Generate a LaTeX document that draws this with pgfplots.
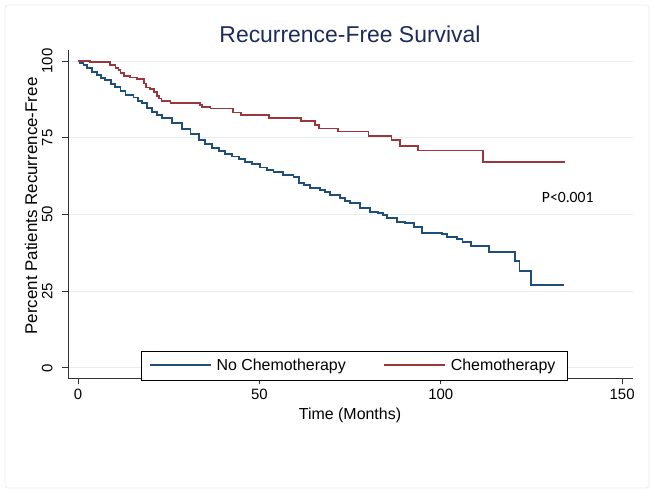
\documentclass[border=0pt]{standalone}
\usepackage{fontspec}
\setmainfont{Liberation Sans}
\newfontfamily\calibri{Carlito}
\usepackage{pgfplots}
\pgfplotsset{compat=1.18}
\definecolor{kmblue}{HTML}{1F4E7A}
\definecolor{kmred}{HTML}{9A363C}
\definecolor{titlecol}{HTML}{1E2A5A}
\definecolor{gridcol}{HTML}{E6EEF2}
\definecolor{axcol}{HTML}{333333}

\begin{document}
\begin{tikzpicture}[x=1bp,y=1bp]
\useasboundingbox (0,0) rectangle (654,493);
\draw[gridcol, line width=0.8bp, rounded corners=3bp] (5,5) rectangle (649,488);
\begin{axis}[
  at={(68bp,114.7bp)}, anchor=south west,
  scale only axis, width=565bp, height=328.3bp,
  xmin=-2.76, xmax=153, ymin=-3.4, ymax=103.6,
  axis lines*=left, axis line style={-, axcol, line width=0.9bp},
  xtick={0,50,100,150}, ytick={0,25,50,75,100},
  tick align=outside, major tick length=6bp,
  tick style={axcol, line width=0.9bp},
  ymajorgrids, grid style={gridcol, line width=0.9bp},
  ticklabel style={font=\fontsize{15}{18}\selectfont},
  /pgf/number format/assume math mode=true,
  yticklabel style={rotate=90, anchor=south},
  yticklabel shift=6bp,
  xticklabel shift=1bp,
  legend style={
    at={(0.507,0.039)}, anchor=center,
    draw=black, line width=0.7bp, fill=white,
    legend columns=2,
    font=\fontsize{16}{19}\selectfont,
    inner xsep=7bp, inner ysep=6bp,
    /tikz/every even column/.append style={column sep=32bp},
    nodes={inner xsep=5bp},
  },
  legend cell align=left,
  legend image code/.code={\draw[#1] (0bp,0bp) -- (61bp,0bp);},
]
\addlegendimage{kmblue, line width=2bp}
\addlegendentry{No Chemotherapy}
\addlegendimage{kmred, line width=2bp}
\addlegendentry{Chemotherapy}
\addplot[const plot, kmblue, line width=1.9bp, forget plot] coordinates {
(0,100) (0.6,99.5) (1.5,98.6) (2.5,97.6) (3.8,96.5) (5.2,95.4) (6.3,94.6)
(7.5,93.8) (9.0,92.6) (10.3,91.6) (11.7,90.2) (13.1,88.9) (15.3,88.1)
(16.5,87.1) (17.6,86.2) (19.0,84.8) (20.4,83.5) (21.8,82.4) (23.2,81.3)
(25.9,79.7) (28.7,77.8) (31.0,76.2) (33.3,74.3) (35.0,73.0) (36.9,71.6)
(38.8,70.6) (40.6,69.7) (42.5,68.9) (44.3,68.1) (46.0,67.2) (48.0,66.3)
(50.2,65.3) (52.0,64.5) (53.9,63.9) (56.5,63.0) (59.4,62.1) (60.8,60.2)
(62.4,59.5) (64.0,58.7) (66.7,58.0) (68.0,57.2) (69.5,56.4) (72.2,55.3)
(73.6,54.5) (75.0,53.6) (77.7,52.2) (80.5,50.9) (82.8,50.6) (84.0,49.7)
(85.1,48.8) (87.9,47.5) (90.2,47.2) (92.5,46.0) (94.8,44.1) (100.3,43.6)
(101.7,42.6) (104.6,42.0) (106.0,41.1) (108.3,39.8) (113.4,37.8)
(120.5,34.9) (121.7,31.5) (124.8,26.9) (134.0,26.9)
};
\addplot[const plot, kmred, line width=1.7bp, forget plot] coordinates {
(0,100) (3.4,99.6) (8.9,98.7) (10.3,97.8) (11.2,97.1) (11.7,96.0) (12.6,95.2)
(14.4,94.6) (16.3,94.1) (18.1,92.7) (18.8,91.4) (19.9,90.8) (20.9,89.8)
(21.8,88.7) (22.4,87.8) (23.0,87.0) (25.5,86.4) (33.7,85.7) (34.2,85.1)
(36.5,84.5) (42.8,83.2) (45.0,82.3) (52.6,81.4) (61.5,80.5) (65.4,79.2)
(66.4,78.0) (71.7,77.0) (80.1,75.5) (86.4,74.2) (88.8,72.4) (93.7,70.8)
(111.6,67.0) (134.3,67.0)
};
\node[font=\calibri\fontsize{15.7}{18}\selectfont, text=black] at (axis cs:135,55.5) {P<0.001};
\end{axis}
\node[font=\fontsize{23}{27}\selectfont, text=titlecol] at (350,459) {Recurrence-Free Survival};
\node[font=\fontsize{16}{19}\selectfont] at (350,78) {Time (Months)};
\node[font=\fontsize{17}{20}\selectfont, rotate=90] at (31,287) {Percent Patients Recurrence-Free};
\end{tikzpicture}
\end{document}
